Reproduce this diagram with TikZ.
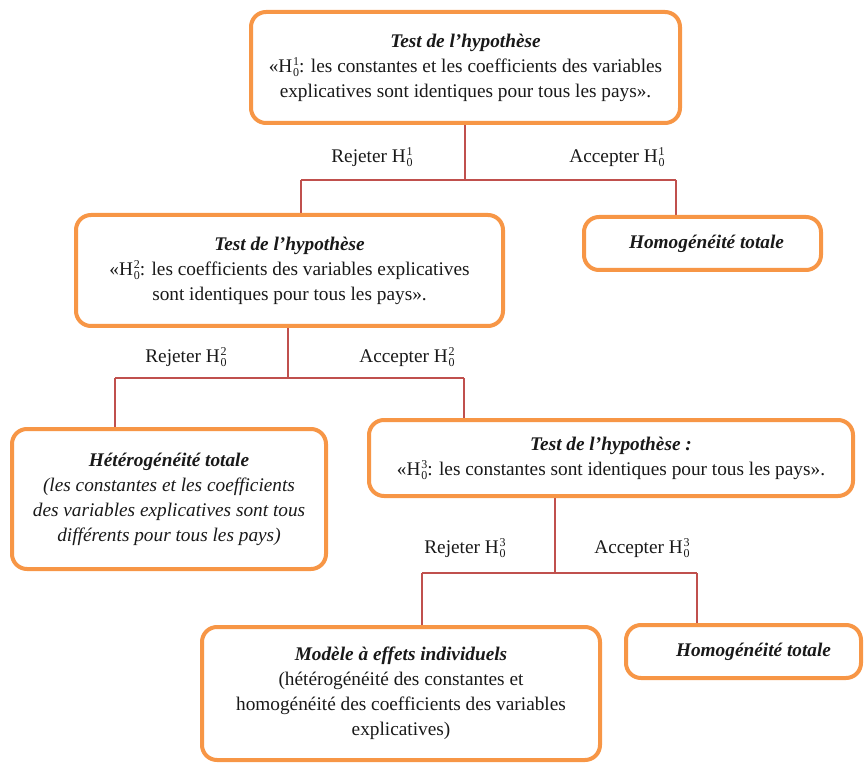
\documentclass[tikz,border=0pt]{standalone}
\usepackage{fontspec}
\setmainfont{Liberation Serif}
\usetikzlibrary{backgrounds}
\definecolor{boxorange}{HTML}{F79646}
\definecolor{linkred}{HTML}{C0504D}
\newcommand{\Hz}[1]{H\kern.8pt\raisebox{-4pt}{\fontsize{12}{11.5}\selectfont\shortstack{#1\\0}}}
\tikzset{
  x=1pt, y=-1pt,
  hbox/.style={draw=boxorange, line width=4pt, rounded corners=15pt, fill=white,
    align=center, inner sep=0pt, font=\fontsize{19.3}{25}\selectfont, text=black!90},
  conn/.style={draw=linkred, line width=1.5pt},
  lbl/.style={font=\fontsize{19.3}{25}\selectfont, text=black!90, inner sep=0pt}
}
\begin{document}
\begin{tikzpicture}
\useasboundingbox (0,0) rectangle (865,767);
\node[hbox, minimum width=429pt, minimum height=111pt] (b1) at (465.5,67.5)
  {\textbf{\textit{Test de l'hypothèse}}\\«\Hz{1}: les constantes et les coefficients des variables\\explicatives sont identiques pour tous les pays».};
\node[hbox, minimum width=427pt, minimum height=111pt] (b2) at (289.5,270.5)
  {\textbf{\textit{Test de l'hypothèse}}\\«\Hz{2}: les coefficients des variables explicatives\\sont identiques pour tous les pays».};
\node[hbox, minimum width=237pt, minimum height=53pt] (b3) at (702.5,243.5)
  {\hspace*{8pt}\textbf{\textit{Homogénéité totale}}};
\node[hbox, minimum width=314pt, minimum height=140pt] (b4) at (169,499)
  {\textbf{\textit{Hétérogénéité totale}}\\\textit{(les constantes et les coefficients}\\\textit{des variables explicatives sont tous}\\\textit{différents pour tous les pays)}};
\node[hbox, minimum width=484pt, minimum height=76pt] (b5) at (611,458)
  {\textbf{\textit{Test de l'hypothèse :}}\\«\Hz{3}: les constantes sont identiques pour tous les pays».};
\node[hbox, minimum width=398pt, minimum height=133pt] (b6) at (401,693.5)
  {\textbf{\textit{Modèle à effets individuels}}\\(hétérogénéité des constantes et\\homogénéité des coefficients des variables\\explicatives)};
\node[hbox, minimum width=235pt, minimum height=53pt] (b7) at (743.5,651.5)
  {\hspace*{20pt}\textbf{\textit{Homogénéité totale}}};
\node[lbl] (r1) at (372,157) {Rejeter \Hz{1}};
\node[lbl] (a1) at (617,157) {Accepter \Hz{1}};
\node[lbl] (r2) at (186,357) {Rejeter \Hz{2}};
\node[lbl] (a2) at (407,357) {Accepter \Hz{2}};
\node[lbl] (r3) at (465,548) {Rejeter \Hz{3}};
\node[lbl] (a3) at (642,548) {Accepter \Hz{3}};
\coordinate (m1) at (465,180);
\coordinate (l1) at (301,180);
\coordinate (k1) at (676,180);
\coordinate (m2) at (288,378);
\coordinate (l2) at (115,378);
\coordinate (k2) at (464,378);
\coordinate (m3) at (555,573);
\coordinate (l3) at (422,573);
\coordinate (k3) at (697,573);
\begin{scope}[on background layer]
\draw[conn] (m1 |- b1.south) -- (m1);
\draw[conn] (l1) -- (k1);
\draw[conn] (l1) -- (l1 |- b2.north);
\draw[conn] (k1) -- (k1 |- b3.north);
\draw[conn] (m2 |- b2.south) -- (m2);
\draw[conn] (l2) -- (k2);
\draw[conn] (l2) -- (l2 |- b4.north);
\draw[conn] (k2) -- (k2 |- b5.north);
\draw[conn] (m3 |- b5.south) -- (m3);
\draw[conn] (l3) -- (k3);
\draw[conn] (l3) -- (l3 |- b6.north);
\draw[conn] (k3) -- (k3 |- b7.north);
\end{scope}
\end{tikzpicture}
\end{document}
